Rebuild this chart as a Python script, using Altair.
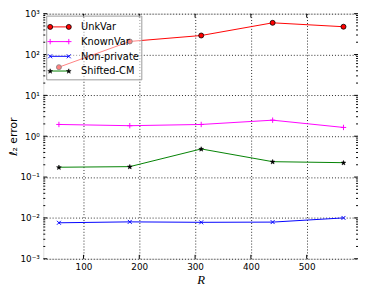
import math
import altair as alt
import pandas as pd

R = [56, 183, 311, 439, 566]
series = ["UnkVar", "KnownVar", "Non-private", "Shifted-CM"]
unkvar = [49, 209, 292, 597, 479]
knownvar = [1.94, 1.81, 1.94, 2.47, 1.64]
nonprivate = [0.0076, 0.0080, 0.0078, 0.0079, 0.0100]
shifted = [0.174, 0.180, 0.488, 0.238, 0.225]
x_ticks = [100, 200, 300, 400, 500]
y_ticks = [1e-3, 1e-2, 1e-1, 1e0, 1e1, 1e2, 1e3]

W, H = 321, 250

values = {"UnkVar": unkvar, "KnownVar": knownvar, "Non-private": nonprivate, "Shifted-CM": shifted}
rows = []
for s in series:
    for r, v in zip(R, values[s]):
        rows.append({"series": s, "R": r, "err": v})
df = pd.DataFrame(rows)

# star path
pts = []
for i in range(10):
    ang = -math.pi / 2 + i * math.pi / 5
    rad = 1.0 if i % 2 == 0 else 0.42
    pts.append((rad * math.cos(ang), rad * math.sin(ang) + 0.1))
star = "M" + "L".join(f"{x:.3f},{y:.3f}" for x, y in pts) + "Z"
plus = "M-1,0L1,0M0,-1L0,1"
cross = "M-1,-1L1,1M-1,1L1,-1"

style = {
    "UnkVar": dict(line="#ff0000", shape="circle", fill="#ff0000", stroke="#000000", size=26, sw=0.8),
    "KnownVar": dict(line="#ff00ff", shape=plus, fill=None, stroke="#ff00ff", size=30, sw=1),
    "Non-private": dict(line="#0000ff", shape=cross, fill=None, stroke="#0000ff", size=16, sw=1),
    "Shifted-CM": dict(line="#008000", shape=star, fill="#000000", stroke="#000000", size=26, sw=0.5),
}

xscale = alt.Scale(domain=[28, 592], nice=False, zero=False)
yscale = alt.Scale(type="log", domain=[1e-3, 1e3], nice=False)

label_expr = ("'10' + (round(log(datum.value)/LN10) < 0 ? '⁻' : '') + "
              "['⁰','¹','²','³','⁴'][abs(round(log(datum.value)/LN10))]")

base = alt.Chart(df)
xenc = alt.X("R:Q", scale=xscale,
             axis=alt.Axis(values=x_ticks, title="R", grid=True, gridColor="#000000",
                           gridDash=[1, 2], gridOpacity=0.85, ticks=False, domain=False,
                           labelFontSize=9, labelColor="#000", labelPadding=4,
                           titleFont="Liberation Serif", titleFontStyle="italic",
                           titleFontWeight="normal", titleFontSize=13, titleColor="#000",
                           titlePadding=2, labelFont="DejaVu Sans"))
yenc = alt.Y("err:Q", scale=yscale,
             axis=alt.Axis(values=y_ticks, labelExpr=label_expr, title="ℓ₂ error",
                           grid=True, gridColor="#000000", gridDash=[1, 2], gridOpacity=0.85,
                           ticks=False, domain=False, labelFontSize=9, labelColor="#000",
                           labelPadding=4, titleFontSize=11, titleFontWeight="normal",
                           titleColor="#000", titlePadding=2, labelFont="DejaVu Sans",
                           titleFont="DejaVu Sans"))


def point_kw(st):
    kw = dict(shape=st["shape"], size=st["size"], stroke=st["stroke"], strokeWidth=st["sw"], opacity=1)
    if st["fill"]:
        kw.update(filled=True, fill=st["fill"])
    else:
        kw.update(filled=False)
    return kw


layers = []
for s in series:
    st = style[s]
    sub = base.transform_filter(alt.datum.series == s)
    layers.append(sub.mark_line(color=st["line"], strokeWidth=1).encode(x=xenc, y=yenc))
for s in series:
    st = style[s]
    sub = base.transform_filter(alt.datum.series == s)
    layers.append(sub.mark_point(**point_kw(st)).encode(x="R:Q", y="err:Q"))

# minor/major inward ticks
minor = [m * 10 ** e for e in range(-3, 3) for m in range(2, 10)]
tick_y_major = pd.DataFrame({"v": y_ticks})
tick_y_minor = pd.DataFrame({"v": minor})
tick_x = pd.DataFrame({"v": x_ticks})
for d, ln in ((tick_y_major, 4), (tick_y_minor, 2)):
    layers.append(alt.Chart(d).mark_rule(color="#000", strokeWidth=1).encode(
        y=alt.Y("v:Q", scale=yscale), x=alt.value(0), x2=alt.value(ln)))
    layers.append(alt.Chart(d).mark_rule(color="#000", strokeWidth=1).encode(
        y=alt.Y("v:Q", scale=yscale), x=alt.value(W - ln), x2=alt.value(W)))
layers.append(alt.Chart(tick_x).mark_rule(color="#000", strokeWidth=1).encode(
    x=alt.X("v:Q", scale=xscale), y=alt.value(H - 4), y2=alt.value(H)))
layers.append(alt.Chart(tick_x).mark_rule(color="#000", strokeWidth=1).encode(
    x=alt.X("v:Q", scale=xscale), y=alt.value(0), y2=alt.value(4)))

# legend (semi-transparent, over the data)
leg = pd.DataFrame({"series": series})
layers.append(alt.Chart(leg.head(1)).mark_rect(color="#ffffff", opacity=0.5).encode(
    x=alt.value(3.5), x2=alt.value(100.5), y=alt.value(2.5), y2=alt.value(67.5)))
layers.append(alt.Chart(leg.head(1)).mark_rect(filled=False, stroke="#999999", strokeWidth=1,
                                               fillOpacity=0).encode(
    x=alt.value(3.5), x2=alt.value(100.5), y=alt.value(2.5), y2=alt.value(67.5)))
row_y = [13.5, 28.5, 43.5, 58.5]
for s, ry in zip(series, row_y):
    st = style[s]
    sub = alt.Chart(leg).transform_filter(alt.datum.series == s)
    layers.append(sub.mark_rule(color=st["line"], strokeWidth=1).encode(
        x=alt.value(7), x2=alt.value(26), y=alt.value(ry)))
    for px in (7, 26):
        layers.append(sub.mark_point(**point_kw(st)).encode(x=alt.value(px), y=alt.value(ry)))
    layers.append(sub.mark_text(align="left", baseline="middle", fontSize=10, font="DejaVu Sans",
                                color="#000").encode(x=alt.value(38.5), y=alt.value(ry + 0.5),
                                                     text="series:N"))

chart = alt.layer(*layers).properties(
    width=W, height=H,
    autosize=alt.AutoSizeParams(type="none"),
    padding={"left": 36, "top": 3, "right": 0, "bottom": 25},
).configure_view(stroke="#000000", strokeWidth=1.2).configure(background="#ffffff")

chart.save("out.html", embed_options={"renderer": "svg", "actions": False})
